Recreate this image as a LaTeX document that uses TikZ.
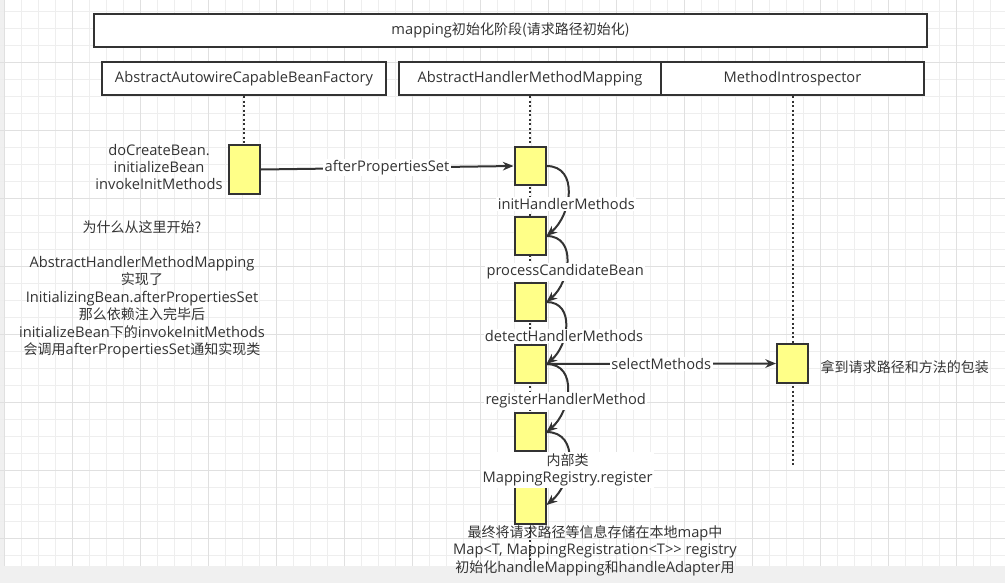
\documentclass[tikz,border=0pt]{standalone}
\usepackage{fontspec}
\setmainfont{Open Sans}
\newfontfamily\zh[Scale=0.955]{Noto Sans CJK SC}
\usetikzlibrary{arrows.meta}
\definecolor{linegray}{HTML}{333333}
\definecolor{actfill}{HTML}{FFFF88}
\definecolor{gridminor}{HTML}{EEEEEE}
\definecolor{gridmajor}{HTML}{E0E0E0}
\definecolor{bargray}{HTML}{F0F0F0}

\begin{document}
\begin{tikzpicture}[x=0.75pt, y=-0.75pt,
  every node/.style={font=\fontsize{11}{13.1}\selectfont, text=linegray},
  header/.style={draw=linegray, line width=1.5pt, fill=white, minimum height=24.75pt, inner sep=0pt},
  act/.style={draw=linegray, line width=1.5pt, fill=actfill, minimum width=23.25pt, minimum height=28.5pt, inner sep=0pt},
  lifeline/.style={draw=linegray, line width=1.5pt, dash pattern=on 1.5pt off 1.9pt},
  msg/.style={draw=linegray, line width=1.5pt, -{Stealth[length=8pt, width=6.5pt]}},
  selfcall/.style={msg, out=0, in=40, looseness=1.2},
  lbl/.style={fill=white, inner sep=1pt, align=center},
  note/.style={align=center}]
  \useasboundingbox (0,0) rectangle (1005,583);

  % Paper with grid
  \fill[white] (0,0) rectangle (1005,583);
  \fill[bargray] (0,0) rectangle (5,583);
  \foreach \k in {0,...,58}
    \draw[gridminor, line width=0.75pt] ({4.7+17*\k},0) -- ({4.7+17*\k},583);
  \foreach \k in {0,...,33}
    \draw[gridminor, line width=0.75pt] (0,{11.3+17*\k}) -- (1005,{11.3+17*\k});
  \foreach \k in {0,4,...,56}
    \draw[gridmajor, line width=0.75pt] ({4.7+17*\k},0) -- ({4.7+17*\k},583);
  \foreach \k in {3,7,...,31}
    \draw[gridmajor, line width=0.75pt] (0,{11.3+17*\k}) -- (1005,{11.3+17*\k});
  \fill[bargray] (0,566) rectangle (1005,583);

  % Header boxes
  \node[header, minimum width=624.75pt] (title) at (510.5,30.5) {mapping{\zh 初始化阶段(请求路径初始化)}};
  \node[header, minimum width=213pt] (factory) at (244,78.5) {AbstractAutowireCapableBeanFactory};
  \node[header, minimum width=197.25pt] (mapping) at (530,78.5) {AbstractHandlerMethodMapping};
  \node[header, minimum width=197.25pt] (introspector) at (792.5,78.5) {MethodIntrospector};

  % Lifelines
  \coordinate (mappingEnd) at (530,560);
  \coordinate (introspectorEnd) at (792.5,465);
  \draw[lifeline] (factory.south) -- (244,145);
  \draw[lifeline] (mapping.south) -- (mappingEnd);
  \draw[lifeline] (introspector.south) -- (introspectorEnd);

  % Activations
  \node[act, minimum height=36.75pt] (invoke) at (244,169.5) {};
  \node[act] (call1) at (530,166) {};
  \node[act] (call2) at (530,236) {};
  \node[act] (call3) at (530,302) {};
  \node[act] (call4) at (530,364) {};
  \node[act] (call5) at (530,432) {};
  \node[act] (call6) at (530,505) {};
  \node[act, minimum height=29.25pt] (select) at (792.5,363.5) {};

  % Messages
  \draw[msg] (invoke.east) -- node[lbl] {afterPropertiesSet} (call1.west);
  \draw[selfcall] (call1.east) to node[lbl, pos=0.62] {initHandlerMethods} (call2.east);
  \draw[selfcall] (call2.east) to node[lbl, pos=0.62] {processCandidateBean} (call3.east);
  \draw[selfcall] (call3.east) to node[lbl, pos=0.62] {detectHandlerMethods} (call4.east);
  \draw[msg] (call4.east) -- node[lbl] {selectMethods} (select.west);
  \draw[selfcall] (call4.east) to node[lbl, pos=0.62] {registerHandlerMethod} (call5.east);
  \draw[selfcall] (call5.east) to node[lbl, pos=0.6] {{\zh 内部类}\\MappingRegistry.register} (call6.east);

  % Notes
  \node[note] (createNote) at (159,167) {doCreateBean.\\initializeBean\\invokeInitMethods};
  \node[note] (whyNote) at (142,289.5) {{\zh 为什么从这里开始?}\\[13.1pt]
    AbstractHandlerMethodMapping\\{\zh 实现了}\\InitializingBean.afterPropertiesSet\\
    {\zh 那么依赖注入完毕后}\\initializeBean{\zh 下的}invokeInitMethods\\
    {\zh 会调用}afterPropertiesSet{\zh 通知实现类}};
  \node[note, anchor=west] (wrapNote) at (816,367) {{\zh 拿到请求路径和方法的包装}};
  \node[note] (storeNote) at (595,550.5) {{\zh 最终将请求路径等信息存储在本地}map{\zh 中}\\
    Map<T, MappingRegistration<T>{}> registry\\
    {\zh 初始化}handleMapping{\zh 和}handleAdapter{\zh 用}};
\end{tikzpicture}
\end{document}
